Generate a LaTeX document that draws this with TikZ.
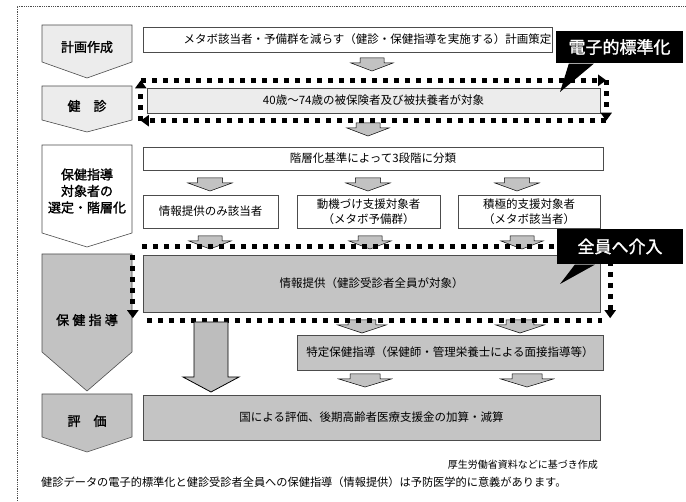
\documentclass[tikz,border=0pt]{standalone}
\usepackage{fontspec}
\setmainfont{Noto Sans CJK JP}[AutoFakeBold=1.5]
\usetikzlibrary{arrows.meta,fit,calc}
\tikzset{
  box/.style={draw=gray!60!black, line width=0.6pt, inner sep=0pt, outer sep=0pt,
    font=\fontsize{11.5}{15}\selectfont, align=center},
  whitebox/.style={box, fill=white},
  lightbox/.style={box, fill=gray!15},
  darkbox/.style={box, fill=gray!46},
  penta/.style={draw=gray!60!black, line width=0.6pt},
  lefttext/.style={font=\fontsize{13}{16.5}\selectfont\bfseries, align=center, inner sep=0pt},
  sqline/.style={line width=5pt, dash pattern=on 5pt off 6pt},
  sqarrow/.style={sqline, -{Triangle[width=11pt,length=8pt]}},
  callbox/.style={fill=black, inner sep=0pt, text=white, font=\fontsize{17}{20}\selectfont\bfseries},
  darr/.pic={\filldraw[fill=gray!48, draw=black, line width=0.5pt]
     (-12,0) -- (12,0) -- (12,5) -- (21,5) -- (0,13) -- (-21,5) -- (-12,5) -- cycle;},
}
\begin{document}
\begin{tikzpicture}[x=1pt,y=-1pt]
\useasboundingbox (0,0) rectangle (686,502);
% outer frame
\draw[densely dotted, gray!60!black, line width=0.8pt] (17,510) -- (17,6) -- (690,6);

% left column pentagons
\filldraw[penta, fill=gray!15] (42,25) -- (132,25) -- (132,62) -- (87,78) -- (42,62) -- cycle;
\filldraw[penta, fill=gray!15] (42,86) -- (132,86) -- (132,120) -- (87,132) -- (42,120) -- cycle;
\filldraw[penta, fill=white] (42,145) -- (132,145) -- (132,233) -- (87,247) -- (42,233) -- cycle;
\filldraw[penta, fill=gray!48] (42,254) -- (132,254) -- (132,352) -- (87,391) -- (42,352) -- cycle;
\filldraw[penta, fill=gray!48] (42,394) -- (132,394) -- (132,437) -- (87,452) -- (42,437) -- cycle;
\node[lefttext] (l1) at (87,47) {計画作成};
\node[lefttext] (l2) at (87,106) {健\hspace{1em}診};
\node[lefttext] (l3) at (87,191) {保健指導\\対象者の\\選定・階層化};
\node[lefttext] (l4) at (87,320) {保\hspace{0.25em}健\hspace{0.25em}指\hspace{0.25em}導};
\node[lefttext] (l5) at (87,421) {評\hspace{1em}価};

% right boxes
\node[whitebox, minimum width=409pt, minimum height=25pt] (plan) at (347.5,39.5)
  {\hspace*{40pt}メタボ該当者・予備群を減らす（健診・保健指導を実施する）計画策定};
\node[lightbox, minimum width=453pt, minimum height=25pt] (kenshin) at (373.5,100.5)
  {40歳～74歳の被保険者及び被扶養者が対象};
\node[whitebox, minimum width=460pt, minimum height=23pt] (strat) at (373,158.5)
  {階層化基準によって3段階に分類};
\node[whitebox, minimum width=135pt, minimum height=33pt] (b1) at (210.5,211.5)
  {情報提供のみ該当者};
\node[whitebox, minimum width=143pt, minimum height=33pt] (b2) at (368.5,211.5)
  {動機づけ支援対象者\\（メタボ予備群）};
\node[whitebox, minimum width=142pt, minimum height=33pt] (b3) at (529,211.5)
  {積極的支援対象者\\（メタボ該当者）};
\node[darkbox, minimum width=457pt, minimum height=57pt] (info) at (371.5,283.5)
  {情報提供（健診受診者全員が対象）};
\node[darkbox, minimum width=306pt, minimum height=35pt] (tokutei) at (450,352.5)
  {特定保健指導（保健師・管理栄養士による面接指導等）};
\node[darkbox, minimum width=457pt, minimum height=45pt] (hyoka) at (371.5,417.5)
  {国による評価、後期高齢者医療支援金の加算・減算};

% small arrows
\pic at (372,58) {darr};
\pic at (368,123) {darr};
\pic[xscale=1.05] at (210,178) {darr};
\pic[xscale=1.05] at (368,178) {darr};
\pic[xscale=1.05] at (517,178) {darr};
\pic at (210,236) {darr};
\pic at (370,236) {darr};
\pic at (522,236) {darr};
\pic[xscale=1.15] at (362,320) {darr};
\pic[xscale=1.15] at (520,320) {darr};
\pic[xscale=1.25] at (365,374) {darr};
\pic[xscale=1.25] at (527,374) {darr};

% square-dashed frame around the health check row (clockwise cycle)
\node[fit=(kenshin), inner xsep=6pt, inner ysep=7.5pt] (f1) {};
\draw[sqarrow] (f1.north west) -- (f1.north east);
\draw[sqarrow] (f1.north east) -- (f1.south east);
\draw[sqarrow] (f1.south east) -- (f1.south west);
\draw[sqarrow] (f1.south west) -- (f1.north west);

% square-dashed frame around the information row
\node[fit=(info), inner xsep=10pt, inner ysep=8pt] (f2) {};
\draw[sqline] ($(f2.north west)+(9,0)$) -- ($(f2.north east)+(-8,0)$);
\draw[sqline] ($(f2.south west)+(14,0)$) -- ($(f2.south east)+(-8,0)$);
\draw[sqarrow] ($(f2.north west)+(0,8)$) -- ($(f2.south west)+(0,-2)$);
\draw[sqarrow] ($(f2.north east)+(0,14)$) -- ($(f2.south east)+(0,-2)$);

% big arrow from frame 2 to evaluation
\filldraw[fill=gray!52, draw=black, line width=0.8pt]
  (194,322) -- (228,322) -- (228,377) -- (239,377) -- (211,392) -- (183,377) -- (194,377) -- cycle;

% callouts
\node[callbox, minimum width=127pt, minimum height=32pt] (c1) at (619.5,47) {電子的標準化};
\coordinate (t1) at (560,92);
\fill[black] ($(c1.south west)+(13,0.5)$) -- ($(c1.south west)+(38,0.5)$) -- (t1) -- cycle;
\node[callbox, minimum width=126pt, minimum height=35pt] (c2) at (620,246.5) {全員へ介入};
\coordinate (t2) at (560,284);
\fill[black] ($(c2.south west)+(18,0.5)$) -- ($(c2.south west)+(38,0.5)$) -- (t2) -- cycle;

% bottom texts
\node[anchor=east, inner sep=0pt, font=\fontsize{10}{12}\selectfont] (src) at (598,465)
  {厚生労働省資料などに基づき作成};
\node[anchor=west, inner sep=0pt, font=\fontsize{11.2}{13}\selectfont] (note) at (41,482)
  {健診データの電子的標準化と健診受診者全員への保健指導（情報提供）は予防医学的に意義があります。};
\end{tikzpicture}
\end{document}
